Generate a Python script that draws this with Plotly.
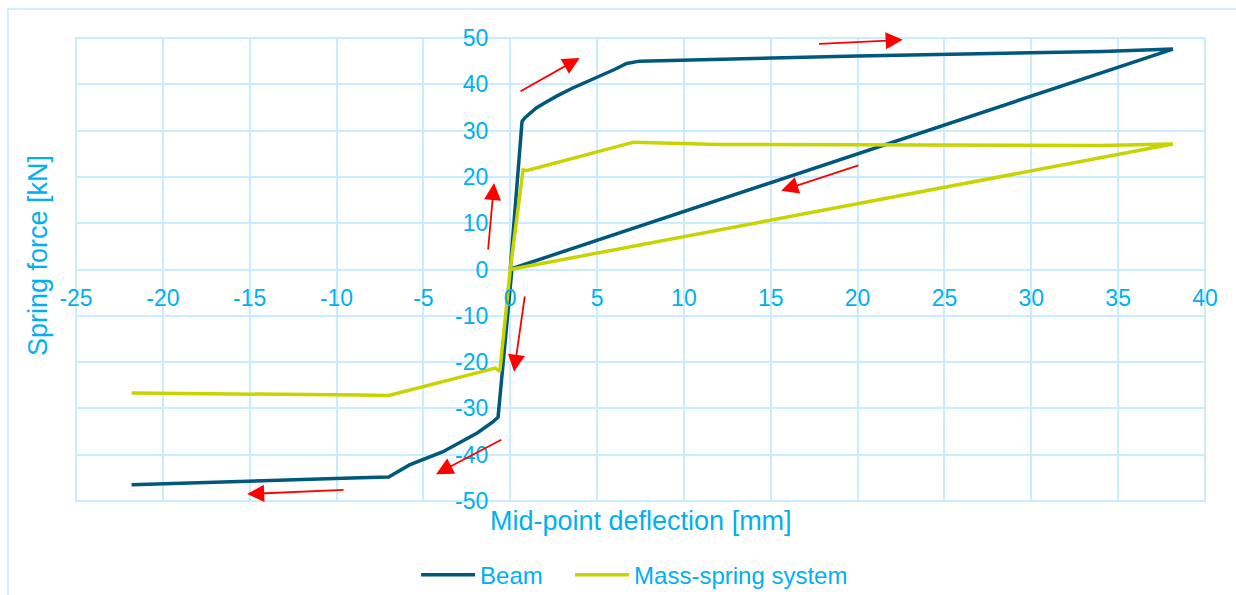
import plotly.graph_objects as go

# ---- data ----
beam_x = [0, 0.68, 0.85, 1.1, 1.5, 2.0, 2.7, 3.6, 5.0, 6.0, 6.7, 7.1, 7.45, 20, 34.1, 38.15,
          0.1, -0.7, -1.0, -1.9, -2.9, -3.9, -5.8, -7.0, -8.65, -21.8]
beam_y = [0, 32.0, 32.8, 33.7, 34.9, 36.0, 37.5, 39.2, 41.5, 43.2, 44.5, 44.85, 45.0, 46.1, 47.1, 47.6,
          0.2, -31.9, -32.9, -35.3, -37.4, -39.4, -42.2, -44.8, -45.0, -46.5]

mass_x = [0, 0.74, 0.97, 7.1, 12, 20, 34, 38.15, 0, -0.6, -0.85, -7.0, -8.65, -21.8]
mass_y = [0, 21.5, 21.4, 27.5, 27.0, 26.9, 26.8, 27.1, 0, -22.0, -21.3, -27.2, -27.1, -26.7]

# arrows: (tail_x, tail_y, head_x, head_y)
arrow_tail_x = [0.51, 17.69, 20.13, -1.28, 0.85, -0.43, -9.51]
arrow_tail_y = [38.3, 48.7, 22.6, 4.0, -5.5, -36.6, -47.6]
arrow_head_x = [4.0, 22.6, 15.6, -0.93, 0.22, -4.27, -15.15]
arrow_head_y = [45.7, 49.6, 17.0, 18.7, -22.1, -44.2, -48.5]

x_ticks = list(range(-25, 41, 5))
y_ticks = list(range(-50, 51, 10))

BLUE = "#00587D"
GREEN = "#C8D400"
TXT = "#00B0F0"
GRID = "#C9EDFC"
FONT = "Liberation Sans, Arial, sans-serif"

fig = go.Figure()
fig.add_trace(go.Scatter(x=beam_x, y=beam_y, mode="lines", name="Beam",
                         line=dict(color=BLUE, width=3.5), legend="legend"))
fig.add_trace(go.Scatter(x=mass_x, y=mass_y, mode="lines", name="Mass-spring system",
                         line=dict(color=GREEN, width=3.5), legend="legend2"))

annotations = []
for tx, ty, hx, hy in zip(arrow_tail_x, arrow_tail_y, arrow_head_x, arrow_head_y):
    annotations.append(dict(x=hx, y=hy, ax=tx, ay=ty, xref="x", yref="y",
                            axref="x", ayref="y", text="", showarrow=True,
                            arrowhead=2, arrowsize=1.9, arrowwidth=1.8,
                            arrowcolor="#FF0000"))

annotations.append(dict(text="Mid-point deflection [mm]", xref="paper", yref="paper",
                        x=0.5, y=-0.043, xanchor="center", yanchor="middle",
                        showarrow=False, font=dict(size=27, color=TXT, family=FONT)))
annotations.append(dict(text="Spring force [kN]", xref="paper", yref="paper",
                        x=-0.0337, y=0.531, xanchor="center", yanchor="middle",
                        textangle=-90, showarrow=False,
                        font=dict(size=27, color=TXT, family=FONT)))

shapes = [
    dict(type="rect", xref="paper", yref="paper", x0=0, y0=0, x1=1, y1=1,
         line=dict(color=GRID, width=2), layer="below"),
    dict(type="rect", xref="paper", yref="paper", x0=-0.0602, y0=-0.6, x1=1.2, y1=1.0626,
         line=dict(color="#D3EFFB", width=2), layer="below"),
]

legend_common = dict(orientation="h", y=-0.16, yanchor="middle", xanchor="left",
                     itemwidth=54, font=dict(size=24, color=TXT, family=FONT),
                     bgcolor="rgba(0,0,0,0)")

fig.update_layout(
    width=1236, height=595,
    margin=dict(l=76, r=31, t=38, b=94, autoexpand=False),
    paper_bgcolor="white", plot_bgcolor="white",
    font=dict(family=FONT, color=TXT, size=23),
    showlegend=True,
    legend=dict(x=0.3012, **legend_common),
    legend2=dict(x=0.4376, **legend_common),
    annotations=annotations,
    shapes=shapes,
    xaxis=dict(range=[-25, 40], tickvals=x_ticks, ticktext=[str(v) for v in x_ticks],
               showgrid=True, gridcolor=GRID, gridwidth=2,
               zeroline=True, zerolinecolor=GRID, zerolinewidth=2,
               showline=False, anchor="free", position=0.5, ticks="",
               ticklabelstandoff=12, tickfont=dict(size=23, color=TXT, family=FONT)),
    yaxis=dict(range=[-50, 50], tickvals=y_ticks, ticktext=[str(v) for v in y_ticks],
               showgrid=True, gridcolor=GRID, gridwidth=2,
               zeroline=True, zerolinecolor=GRID, zerolinewidth=2,
               showline=False, anchor="free", position=25 / 65, ticks="",
               ticklabelstandoff=22, tickfont=dict(size=23, color=TXT, family=FONT)),
)

fig.write_html("out.html")
